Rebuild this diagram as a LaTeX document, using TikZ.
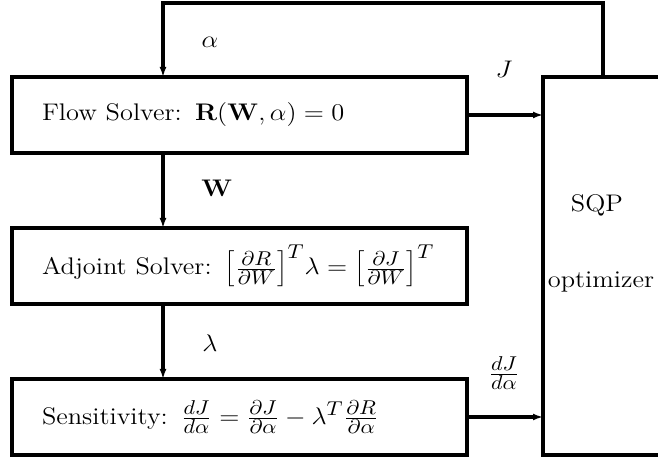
\documentclass[tikz,border=0pt]{standalone}
\usepackage{graphicx}
\usetikzlibrary{arrows.meta}
\DeclareMathSizes{12}{12}{10}{8}
\newcommand{\widetext}[1]{\scalebox{1.1}[1]{#1}}
\begin{document}
\begin{tikzpicture}[x=0.5pt,y=-0.5pt,
  font=\fontsize{12}{14}\selectfont,
  box/.style={draw, line width=2pt, minimum height=38pt, text width=197.5pt, inner xsep=15pt, inner ysep=0pt, align=left, outer sep=0pt},
  sqpbox/.style={draw, line width=2pt, minimum width=65pt, minimum height=189pt, outer sep=0pt},
  flowarrow/.style={line width=2pt, -{Latex[length=5pt,width=3.5pt]}},
  lbl/.style={inner sep=0pt}]
\useasboundingbox (0,0) rectangle (658,459);
\node[box] (flow) at (239.5,115) {\widetext{Flow Solver: $\mathbf{R}(\mathbf{W},\alpha)=0$}};
\node[box] (adj) at (239.5,266) {\widetext{Adjoint Solver: $\Bigl[\frac{\partial R}{\partial W}\Bigr]^{T}\lambda=\Bigl[\frac{\partial J}{\partial W}\Bigr]^{T}$}};
\node[box] (sens) at (239.5,417) {\widetext{Sensitivity: $\frac{dJ}{d\alpha}=\frac{\partial J}{\partial\alpha}-\lambda^{T}\frac{\partial R}{\partial\alpha}$}};
\node[sqpbox] (sqp) at (608,266) {};
\node[lbl] (sqpt) at (597,205) {\widetext{SQP}};
\node[lbl] (optt) at (601,282) {\widetext{optimizer}};
\coordinate (loopL) at (163,3);
\coordinate (loopR) at (603,3);
\draw[flowarrow] (sqp.north -| loopR) -- (loopR) -- (loopL) -- (flow.north -| loopL);
\draw[flowarrow] (flow.south -| loopL) -- (adj.north -| loopL);
\draw[flowarrow] (adj.south -| loopL) -- (sens.north -| loopL);
\draw[flowarrow] (flow.east) -- (flow.east -| sqp.west);
\draw[flowarrow] (sens.east) -- (sens.east -| sqp.west);
\node[lbl] (la) at (210,42) {\widetext{$\alpha$}};
\node[lbl] (lJ) at (504,69) {\widetext{$J$}};
\node[lbl] (lW) at (217,188) {\widetext{$\mathbf{W}$}};
\node[lbl] (ll) at (210,343) {\widetext{$\lambda$}};
\node[lbl] (ldj) at (504,373) {\widetext{$\frac{dJ}{d\alpha}$}};
\end{tikzpicture}
\end{document}
